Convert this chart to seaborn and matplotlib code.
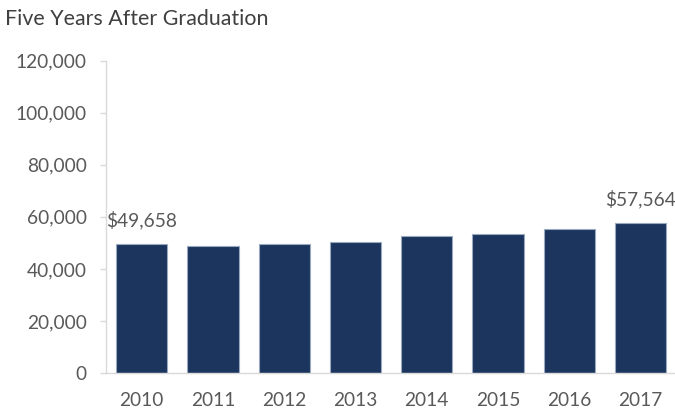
import numpy as np
import pandas as pd
import matplotlib
matplotlib.use("Agg")
import matplotlib.pyplot as plt
import seaborn as sns

# data
years = ["2010", "2011", "2012", "2013", "2014", "2015", "2016", "2017"]
earnings = [49658, 48840, 49490, 50150, 52760, 53550, 55245, 57564]
labelled = {"2010": "$49,658", "2017": "$57,564"}
y_ticks = [0, 20000, 40000, 60000, 80000, 100000, 120000]

df = pd.DataFrame({"year": years, "earnings": earnings})

sns.set_theme(style="white")
plt.rcParams["font.family"] = ["Lato", "DejaVu Sans"]

grey_txt = "#595959"
axis_col = "#d9d9d9"
navy = "#1c355e"

fig = plt.figure(figsize=(6.75, 4.15), dpi=100)
ax = fig.add_axes([106 / 675, 0.101, 570.3 / 675, 0.753])

sns.barplot(data=df, x="year", y="earnings", color=navy, saturation=1,
            width=0.72, edgecolor="#9aa9bf", linewidth=0.8, ax=ax)

# value labels on first and last bars
for i, (yr, val) in enumerate(zip(years, earnings)):
    if yr in labelled:
        ax.annotate(labelled[yr], (i, val), xytext=(0, 12.5), textcoords="offset points",
                    ha="center", va="baseline", fontsize=13.8, color=grey_txt,
                    annotation_clip=False)

ax.set_xlim(-0.5, 7.5)
ax.set_ylim(0, 120000)
ax.set_yticks(y_ticks)
ax.set_yticklabels([f"{v:,}" for v in y_ticks])
ax.set_xlabel("")
ax.set_ylabel("")

# excel-like axes
for s in ["top", "right"]:
    ax.spines[s].set_visible(False)
for s in ["left", "bottom"]:
    ax.spines[s].set_color(axis_col)
    ax.spines[s].set_linewidth(1)

ax.set_xticks(np.arange(-0.5, 8, 1), minor=True)
ax.tick_params(axis="x", which="major", length=0, pad=13.5, labelsize=13.8, labelcolor=grey_txt)
ax.tick_params(axis="x", which="minor", length=4.5, width=1, color=axis_col, direction="out")
ax.tick_params(axis="y", which="major", left=True, length=4.5, width=1, color=axis_col,
               pad=9.5, labelsize=13.8, labelcolor=grey_txt)

fig.text(5 / 675, 1 - 25 / 415, "Five Years After Graduation", ha="left", va="baseline",
         fontsize=15.4, color="#404040")

fig.savefig("out.png", dpi=100)
